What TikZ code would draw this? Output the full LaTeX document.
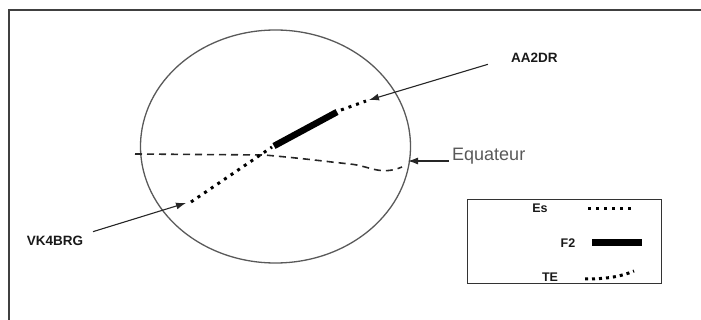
\documentclass[tikz,border=0pt]{standalone}
\usepackage{fontspec}
\setmainfont{Liberation Sans}
\usetikzlibrary{arrows.meta}

\begin{document}
\begin{tikzpicture}[x=1pt, y=-1pt,
  station/.style={font=\bfseries\fontsize{13.5}{15}\selectfont, text=black!90, inner sep=2pt},
  keytext/.style={font=\bfseries\fontsize{12.5}{14}\selectfont, text=black!90, inner sep=0pt},
  arrow/.style={-{Latex[length=10pt, width=7pt]}, line width=1.1pt, draw=black!85},
  dotline/.style={line width=3pt, dash pattern=on 3pt off 5pt, draw=black},
  f2line/.style={line width=6.5pt, draw=black},
  eqline/.style={line width=1.6pt, dash pattern=on 7pt off 5pt, draw=black!85}
]
\useasboundingbox (0,0) rectangle (701,320);
\draw[line width=1.5pt, black!75] (9,320) -- (9,10) -- (701,10);

\draw[line width=1.3pt, black!65] (275.5,146.5) ellipse [x radius=135, y radius=116.5];

\coordinate (eqStart) at (135,154);
\coordinate (eqKnee) at (264,155);
\coordinate (eqEnd) at (402,167);
\coordinate (teStart) at (191,202);
\coordinate (teEnd) at (272,147);
\coordinate (f2Start) at (274,146);
\coordinate (f2End) at (337,112);
\coordinate (esStart) at (341,110);
\coordinate (esEnd) at (366,101);
\coordinate (aaTip) at (369,100);
\coordinate (vkTip) at (186,203);
\coordinate (eqTip) at (408,161);

\draw[eqline] (eqStart) -- (eqKnee)
  .. controls (300,158) and (330,162) .. (350,164)
  .. controls (370,166) and (380,176) .. (eqEnd);
\draw[dotline] (teStart) -- (teEnd);
\draw[f2line] (f2Start) -- (f2End);
\draw[dotline] (esStart) -- (esEnd);

\node[station, anchor=west] (aa2dr) at (509,58) {AA2DR};
\node[station] (vk4brg) at (55,241) {VK4BRG};
\node[font=\fontsize{18}{20}\selectfont, text=black!65, inner sep=2pt, anchor=base west]
  (equateur) at (450,161) {Equateur};

\draw[arrow, shorten <=22pt] (aa2dr.west) -- (aaTip);
\draw[arrow, shorten <=8pt] (vk4brg.north east) -- (vkTip);
\draw[arrow, shorten <=1pt] (equateur.base west) -- (eqTip);

\node[draw, line width=1.2pt, black!80, minimum width=194, minimum height=84,
  anchor=north west, inner sep=0pt] (legend) at (467,199) {};
\node[keytext] (keyEs) at (540,208) {Es};
\node[keytext] (keyF2) at (568,243) {F2};
\node[keytext] (keyTE) at (550,277) {TE};
\draw[dotline] (588,209) -- (634,209);
\draw[f2line, line width=7pt] (592,243) -- (642,243);
\draw[dotline, dash pattern=on 3pt off 4pt] (585,279) .. controls (605,279) and (620,277) .. (634,271);
\end{tikzpicture}
\end{document}
